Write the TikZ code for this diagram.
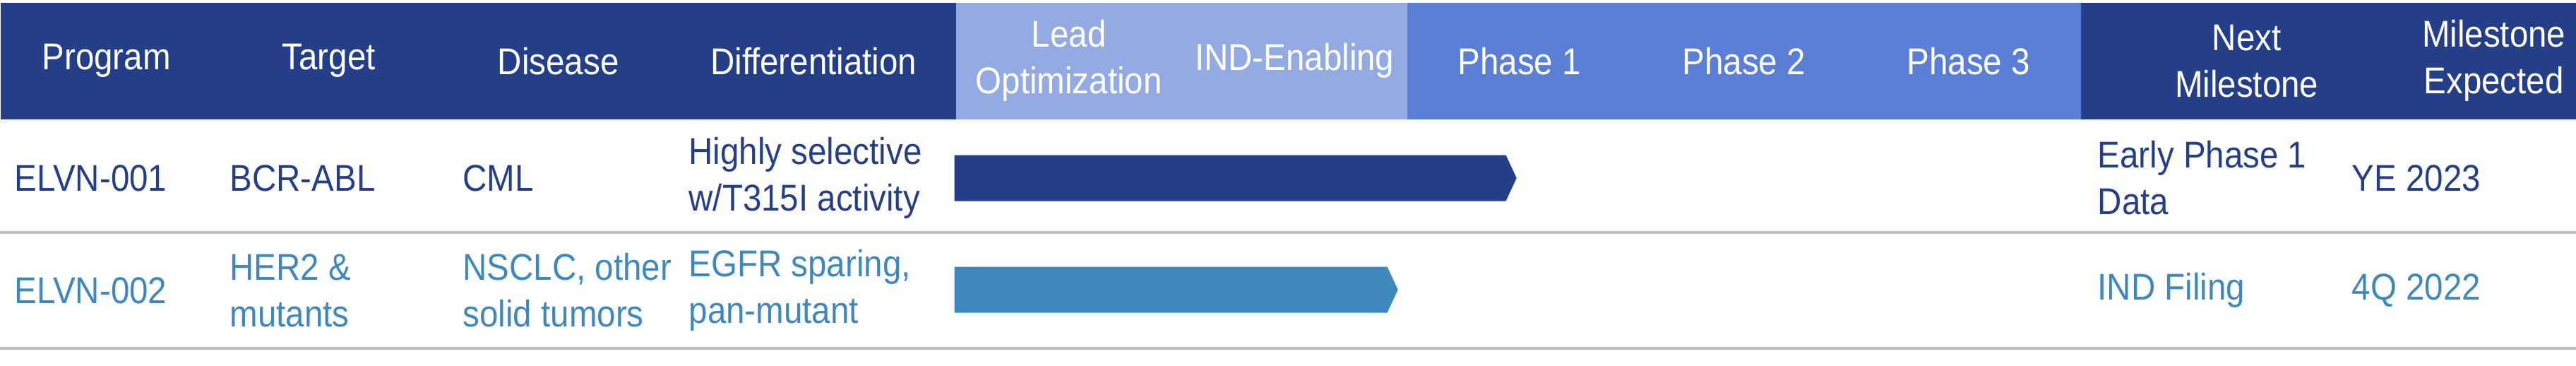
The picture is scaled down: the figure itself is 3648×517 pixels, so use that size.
\documentclass[tikz,border=0pt]{standalone}
\usepackage{fontspec}
\setmainfont{Liberation Sans}[FakeStretch=0.9]
\usetikzlibrary{positioning,shapes.symbols}
\definecolor{navy}{HTML}{243F88}
\definecolor{lightblue}{HTML}{94AAE2}
\definecolor{phaseblue}{HTML}{5B7ED6}
\definecolor{steel}{HTML}{3F88BD}
\definecolor{rule}{HTML}{BFBFBF}
\tikzset{
  headcell/.style={fill=navy, text=white, inner sep=0pt, minimum height=165*0.01cm, anchor=north west, align=center, font=\fontsize{15}{18.8}\selectfont},
  rowtext/.style={anchor=west, inner sep=0pt, align=left, font=\fontsize{15}{18.8}\selectfont},
  bar/.style={signal, signal to=east, signal pointer angle=130, inner sep=0pt, minimum height=65*0.01cm, anchor=west}
}
\begin{document}
\begin{tikzpicture}[x=0.01cm, y=-0.01cm]
    \useasboundingbox (0,0) rectangle (3648,517);

    % Header
    \node (program) [headcell, minimum width=300*0.01cm] at (0,3) {Program};
    \node (target) [headcell, minimum width=330*0.01cm] at (300,3) {Target};
    \node (disease) [headcell, minimum width=320*0.01cm] at (630,3) {Disease};
    \node (diff) [headcell, minimum width=403*0.01cm] at (950,3) {Differentiation};
    \node (lead) [headcell, fill=lightblue, minimum width=320*0.01cm] at (1353,3) {Lead\\Optimization};
    \node (ind) [headcell, fill=lightblue, minimum width=319*0.01cm] at (1673,3) {IND-Enabling};
    \node (ph1) [headcell, fill=phaseblue, minimum width=318*0.01cm] at (1992,3) {Phase 1};
    \node (ph2) [headcell, fill=phaseblue, minimum width=318*0.01cm] at (2310,3) {Phase 2};
    \node (ph3) [headcell, fill=phaseblue, minimum width=318*0.01cm] at (2628,3) {Phase 3};
    \node (next) [headcell, minimum width=470*0.01cm] at (2946,3) {Next\\Milestone};
    \node (expected) [headcell, minimum width=234*0.01cm] at (3414,3) {Milestone\\Expected};

    % Rows
    \begin{scope}[text=navy]
    \node (p1) [rowtext] at (20,252) {ELVN-001};
    \node (t1) [rowtext] at (325,252) {BCR-ABL};
    \node (d1) [rowtext] at (655,252) {CML};
    \node (f1) [rowtext] at (975,252) {Highly selective\\w/T315I activity};
    \node (n1) [rowtext] at (2970,252) {Early Phase 1\\Data};
    \node (e1) [rowtext] at (3330,252) {YE 2023};
    \end{scope}
    \begin{scope}[text=steel]
    \node (p2) [rowtext] at (20,411) {ELVN-002};
    \node (t2) [rowtext] at (325,411) {HER2 \&\\mutants};
    \node (d2) [rowtext] at (655,411) {NSCLC, other\\solid tumors};
    \node (f2) [rowtext] at (975,411) {EGFR sparing,\\pan-mutant};
    \node (n2) [rowtext] at (2970,411) {IND Filing};
    \node (e2) [rowtext] at (3330,411) {4Q 2022};
    \end{scope}

    % Bars
    \node (bar1) [bar, fill=navy, minimum width=796*0.01cm] at (1351,252) {};
    \node (bar2) [bar, fill=steel, minimum width=628*0.01cm] at (1351,410) {};

    % Rules
    \coordinate (r1a) at (0,329);
    \coordinate (r1b) at (3648,329);
    \coordinate (r2a) at (0,493);
    \coordinate (r2b) at (3648,493);
    \draw[rule, line width=1.2pt] (r1a) -- (r1b);
    \draw[rule, line width=1.2pt] (r2a) -- (r2b);
\end{tikzpicture}
\end{document}
